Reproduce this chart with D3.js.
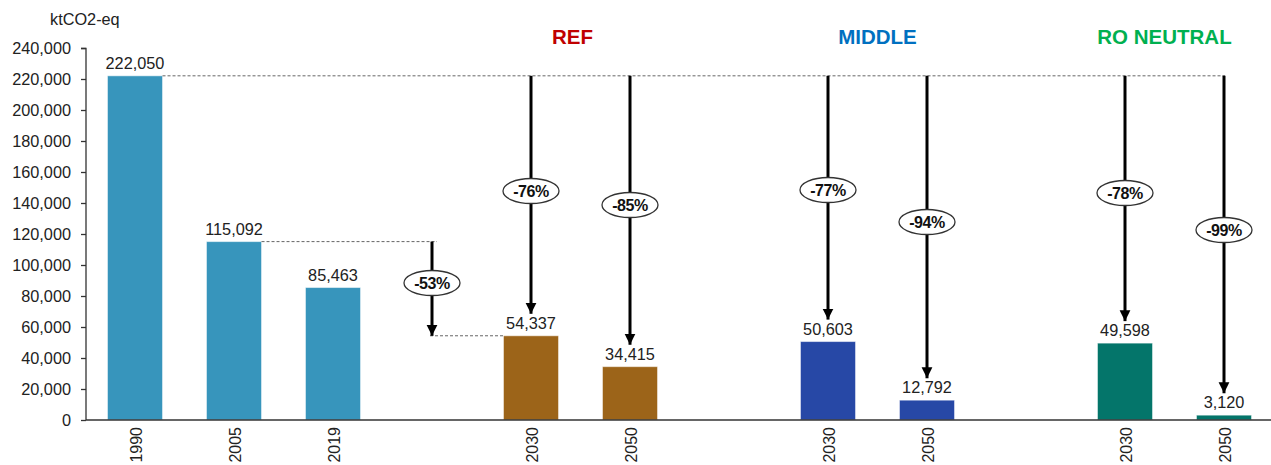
<!DOCTYPE html>
<html><head><meta charset="utf-8">
<script src="https://cdn.jsdelivr.net/npm/d3@7"></script>
<style>
body{margin:0;background:#fff;}
text{font-family:"Liberation Sans",Arial,sans-serif;}
</style></head>
<body><svg id="c" width="1271" height="465"></svg>
<script>
// ---- data ----
const historicYears = ["1990","2005","2019"];
const historicValues = [222050,115092,85463];
const scenarios = ["REF","MIDDLE","RO NEUTRAL"];
const scenarioYears = ["2030","2050"];
const refValues = [54337,34415];
const middleValues = [50603,12792];
const roValues = [49598,3120];
const reductionLabels = {"REF":["-76%","-85%"],"MIDDLE":["-77%","-94%"],"RO NEUTRAL":["-78%","-99%"]};
const reduction2005Label = "-53%";
const yTicks = [0,20000,40000,60000,80000,100000,120000,140000,160000,180000,200000,220000,240000];
const unitLabel = "ktCO2-eq";

// ---- layout / style ----
const W=1271,H=465;
const colors = {"Historic":"#3795BC","REF":"#9C6419","MIDDLE":"#2748A6","RO NEUTRAL":"#04756A"};
const titleColors = {"REF":"#C00000","MIDDLE":"#0070C0","RO NEUTRAL":"#00B050"};
const titleOffsets = {"REF":-8,"MIDDLE":0,"RO NEUTRAL":-10};
const ellipseY = {"REF":[191,205],"MIDDLE":[190,222],"RO NEUTRAL":[193,230]};
const ellipse53Y = 283;

const scenValues = {"REF":refValues,"MIDDLE":middleValues,"RO NEUTRAL":roValues};
const bars = historicYears.map((y,i)=>({key:y,label:y,group:"Historic",value:historicValues[i]}));
const slotKeys = historicYears.slice();
scenarios.forEach(s=>{
  slotKeys.push("gap-"+s);
  scenarioYears.forEach((y,i)=>{
    const k=s+" "+y; slotKeys.push(k);
    bars.push({key:k,label:y,group:s,value:scenValues[s][i]});
  });
});

const x = d3.scaleBand().domain(slotKeys).range([85.5,1273.5]).paddingInner(0.444).paddingOuter(0.222);
const y = d3.scaleLinear().domain([0,240000]).range([420,48]);
const cx = k => x(k)+x.bandwidth()/2;

const svg = d3.select("#c");
const defs = svg.append("defs");
defs.append("marker").attr("id","ah").attr("viewBox","0 0 10 10").attr("refX",10).attr("refY",5)
  .attr("markerWidth",3.6).attr("markerHeight",4.2).attr("markerUnits","strokeWidth").attr("orient","auto")
  .append("path").attr("d","M0,0L10,5L0,10z").attr("fill","#000");

// bars
svg.append("g").selectAll("rect").data(bars).join("rect")
  .attr("x",d=>x(d.key)).attr("width",x.bandwidth())
  .attr("y",d=>y(d.value)).attr("height",d=>y(0)-y(d.value))
  .attr("fill",d=>colors[d.group]).attr("stroke","#ffffff").attr("stroke-opacity",0.5).attr("stroke-width",1);

// y axis
const ya = svg.append("g").attr("transform","translate(86,0)")
  .call(d3.axisLeft(y).tickValues(yTicks).tickSize(5).tickPadding(10).tickFormat(d3.format(",")));
ya.select(".domain").attr("stroke","#333").attr("stroke-width",1.3).attr("d","M-5,48.5H0V420");
ya.selectAll(".tick line").attr("stroke","#333").attr("stroke-width",1.3);
ya.selectAll(".tick text").attr("font-size",16.3).attr("fill","#222").attr("font-family","Liberation Sans, Arial, sans-serif");

// x axis
svg.append("line").attr("x1",86).attr("x2",W).attr("y1",420).attr("y2",420).attr("stroke","#333").attr("stroke-width",1.3);
svg.append("g").selectAll("text").data(bars).join("text")
  .attr("transform",d=>`translate(${cx(d.key)+6.5},427) rotate(-90)`)
  .attr("text-anchor","end").attr("font-size",16).attr("fill","#222").text(d=>d.label);

// unit label
svg.append("text").attr("x",50).attr("y",25).attr("font-size",16.3).attr("fill","#222").text(unitLabel);

// value labels
svg.append("g").selectAll("text").data(bars).join("text")
  .attr("x",d=>cx(d.key)).attr("y",d=>y(d.value)-7).attr("text-anchor","middle")
  .attr("font-size",16.3).attr("fill","#222").text(d=>d3.format(",")(d.value));

// dashed reference lines
const v1990 = historicValues[0], v2005 = historicValues[1];
const lastKey = slotKeys[slotKeys.length-1];
const dash = svg.append("g").attr("stroke","#555").attr("stroke-width",0.9).attr("stroke-dasharray","3,2");
dash.append("line").attr("x1",x("1990")+x.bandwidth()).attr("x2",cx(lastKey)+1).attr("y1",y(v1990)).attr("y2",y(v1990));
dash.append("line").attr("x1",x("2005")+x.bandwidth()).attr("x2",cx("gap-REF")+5).attr("y1",y(v2005)).attr("y2",y(v2005));
dash.append("line").attr("x1",cx("gap-REF")-2).attr("x2",x("REF 2030")).attr("y1",y(refValues[0])).attr("y2",y(refValues[0]));

// arrows
const arrowG = svg.append("g");
function arrow(xp,y1,y2){
  arrowG.append("line").attr("x1",xp).attr("x2",xp).attr("y1",y1).attr("y2",y2)
    .attr("stroke","#000").attr("stroke-width",3).attr("marker-end","url(#ah)");
}
function ell(xp,yp,txt){
  const g=svg.append("g").attr("transform",`translate(${xp},${yp})`);
  g.append("ellipse").attr("rx",28).attr("ry",12.5).attr("fill","#fff").attr("stroke","#333").attr("stroke-width",1.3);
  g.append("text").attr("text-anchor","middle").attr("dy","0.36em").attr("font-size",16).attr("font-weight","bold")
   .attr("letter-spacing","-0.4").attr("fill","#111").text(txt);
}
arrow(cx("gap-REF"),y(v2005),y(refValues[0]));
ell(cx("gap-REF"),ellipse53Y,reduction2005Label);
scenarios.forEach(s=>{
  scenarioYears.forEach((yr,i)=>{
    const k=s+" "+yr;
    arrow(cx(k),y(v1990),y(scenValues[s][i])-22);
    ell(cx(k),ellipseY[s][i],reductionLabels[s][i]);
  });
  // scenario title
  const mid=(cx(s+" "+scenarioYears[0])+cx(s+" "+scenarioYears[1]))/2;
  svg.append("text").attr("x",mid+titleOffsets[s]).attr("y",44).attr("text-anchor","middle")
    .attr("font-family","Lato, 'Open Sans', sans-serif").attr("font-weight","bold").attr("font-size",20.5)
    .attr("fill",titleColors[s]).text(s);
});
</script></body></html>
